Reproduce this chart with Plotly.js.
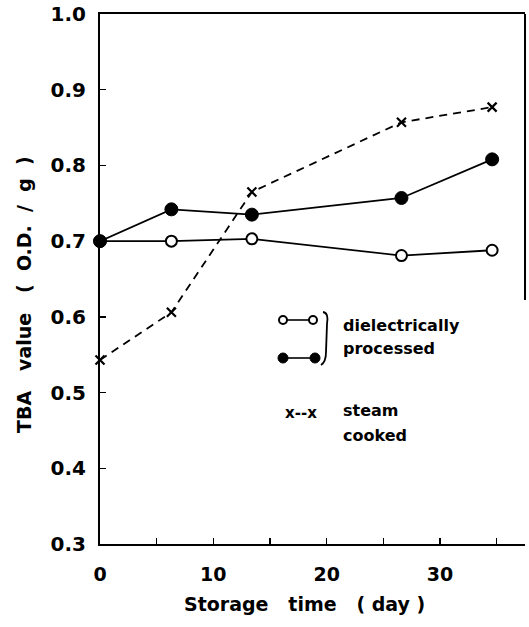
<!DOCTYPE html>
<html>
<head>
<meta charset="utf-8">
<script src="https://cdn.plot.ly/plotly-3.0.1.min.js"></script>
<style>html,body{margin:0;padding:0;background:#fff;}#chart{width:529px;height:627px;}</style>
</head>
<body>
<div id="chart"></div>
<script>
// Storage time (day)
const days = [0, 6.3, 13.4, 26.6, 34.6];
// TBA value (O.D./g)
const dielectricOpen = [0.700, 0.700, 0.703, 0.681, 0.688];
const dielectricFilled = [0.700, 0.742, 0.735, 0.757, 0.808];
const steamCooked = [0.543, 0.606, 0.765, 0.857, 0.877];

const xTickVals = [0, 10, 20, 30];
const xTickText = ['0', '10', '20', '30'];
const yTickVals = [0.3, 0.4, 0.5, 0.6, 0.7, 0.8, 0.9, 1.0];
const yTickText = ['0.3', '0.4', '0.5', '0.6', '0.7', '0.8', '0.9', '1.0'];

const xTitle = 'Storage   time   ( day )';
const yTitle = 'TBA   value   (  O.D.  /  g  )';
const legendLines = ['dielectrically', 'processed', 'steam', 'cooked'];

const FONT = 'DejaVu Sans, sans-serif';
const bold = (size) => ({family: FONT, size: size, color: '#000', weight: 'bold'});

const traces = [
  {
    x: days, y: steamCooked, type: 'scatter', mode: 'lines+markers',
    line: {color: '#000', width: 1.8, dash: '8px,6px'},
    marker: {symbol: 'x-thin-open', size: 9, line: {color: '#000', width: 2.2}},
    cliponaxis: false, showlegend: false
  },
  {
    x: days, y: dielectricOpen, type: 'scatter', mode: 'lines+markers',
    line: {color: '#000', width: 1.8},
    marker: {symbol: 'circle', size: 11, color: '#fff', line: {color: '#000', width: 2}},
    cliponaxis: false, showlegend: false
  },
  {
    x: days, y: dielectricFilled, type: 'scatter', mode: 'lines+markers',
    line: {color: '#000', width: 1.8},
    marker: {symbol: 'circle', size: 13, color: '#000', line: {color: '#000', width: 1}},
    cliponaxis: false, showlegend: false
  }
];

// legend and titles placed in pixel space converted to paper coordinates
const L = 100, R = 4, T = 14, B = 83, W = 529, H = 627;
const pw = W - L - R, ph = H - T - B;
const px = v => (v - L) / pw;
const py = v => 1 - (v - T) / ph;

const shapes = [
  // partial right frame line
  {type: 'line', xref: 'paper', yref: 'paper', x0: 1, x1: 1, y0: 1, y1: py(300), line: {color: '#000', width: 2}},
  // legend samples
  {type: 'line', xref: 'paper', yref: 'paper', x0: px(283), x1: px(313), y0: py(320), y1: py(320), line: {color: '#000', width: 1.6}},
  {type: 'circle', xref: 'paper', yref: 'paper', x0: px(279), x1: px(287), y0: py(316), y1: py(324), fillcolor: '#fff', line: {color: '#000', width: 2}},
  {type: 'circle', xref: 'paper', yref: 'paper', x0: px(309), x1: px(317), y0: py(316), y1: py(324), fillcolor: '#fff', line: {color: '#000', width: 2}},
  {type: 'line', xref: 'paper', yref: 'paper', x0: px(283), x1: px(315), y0: py(358), y1: py(358), line: {color: '#000', width: 1.6}},
  {type: 'circle', xref: 'paper', yref: 'paper', x0: px(278), x1: px(288), y0: py(353), y1: py(363), fillcolor: '#000', line: {color: '#000', width: 1}},
  {type: 'circle', xref: 'paper', yref: 'paper', x0: px(310), x1: px(320), y0: py(353), y1: py(363), fillcolor: '#000', line: {color: '#000', width: 1}},
  {type: 'path', xref: 'paper', yref: 'paper',
   path: `M ${px(323)} ${py(312)} Q ${px(329)} ${py(313)} ${px(327)} ${py(324)} L ${px(326)} ${py(352)} Q ${px(326)} ${py(362)} ${px(321)} ${py(365)}`,
   line: {color: '#000', width: 1.8}}
];

const annotations = [
  {xref: 'paper', yref: 'paper', x: px(341), y: py(325), text: legendLines[0], showarrow: false, xanchor: 'left', yanchor: 'middle', font: bold(16)},
  {xref: 'paper', yref: 'paper', x: px(341), y: py(348), text: legendLines[1], showarrow: false, xanchor: 'left', yanchor: 'middle', font: bold(16)},
  {xref: 'paper', yref: 'paper', x: px(301), y: py(413), text: 'x--x', showarrow: false, xanchor: 'center', yanchor: 'middle', font: bold(15)},
  {xref: 'paper', yref: 'paper', x: px(341), y: py(411), text: legendLines[2], showarrow: false, xanchor: 'left', yanchor: 'middle', font: bold(16)},
  {xref: 'paper', yref: 'paper', x: px(341), y: py(435), text: legendLines[3], showarrow: false, xanchor: 'left', yanchor: 'middle', font: bold(16)},
  // axis titles
  {xref: 'paper', yref: 'paper', x: px(304), y: py(604), text: xTitle, showarrow: false, xanchor: 'center', yanchor: 'middle', font: bold(19)},
  {xref: 'paper', yref: 'paper', x: px(24), y: py(295), text: yTitle, textangle: -90, showarrow: false, xanchor: 'center', yanchor: 'middle', font: bold(19)}
];

const layout = {
  width: W, height: H,
  margin: {l: L, r: R, t: T, b: B, pad: 0},
  paper_bgcolor: '#fff', plot_bgcolor: '#fff',
  showlegend: false,
  font: {family: FONT, color: '#000'},
  xaxis: {
    range: [0, 37.5], showgrid: false, zeroline: false,
    showline: true, linecolor: '#000', linewidth: 2, mirror: true,
    ticks: 'inside', ticklen: 6, tickwidth: 1.5, tickcolor: '#000',
    tickvals: xTickVals, ticktext: xTickText,
    minor: {tickvals: [5, 15, 25, 35], ticks: 'inside', ticklen: 6, tickwidth: 1.5, tickcolor: '#000'},
    tickfont: bold(19),
    ticklabelstandoff: 12
  },
  yaxis: {
    range: [0.3, 1.0], showgrid: false, zeroline: false,
    showline: true, linecolor: '#000', linewidth: 2, mirror: false,
    ticks: 'inside', ticklen: 6, tickwidth: 1.5, tickcolor: '#000',
    tickvals: yTickVals, ticktext: yTickText,
    tickfont: bold(20),
    ticklabelstandoff: 8
  },
  shapes: shapes,
  annotations: annotations
};

Plotly.newPlot('chart', traces, layout, {displayModeBar: false, staticPlot: true});
</script>
</body>
</html>
